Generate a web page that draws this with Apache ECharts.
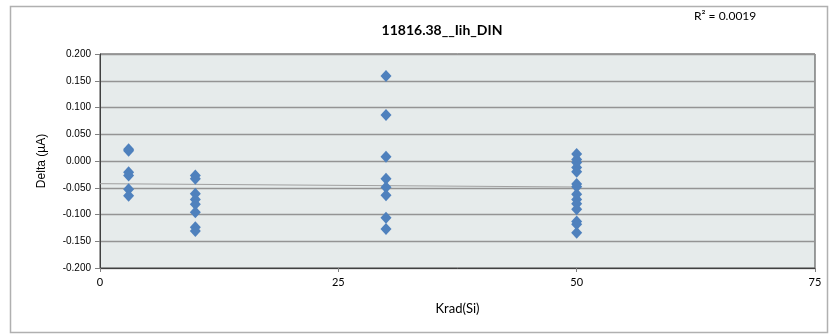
<!DOCTYPE html>
<html>
<head>
<meta charset="utf-8">
<script src="https://cdn.jsdelivr.net/npm/echarts@6/dist/echarts.min.js"></script>
<style>
html,body{margin:0;padding:0;background:#fff;}
#chart{width:830px;height:335px;}
</style>
</head>
<body>
<div id="chart"></div>
<script>
// Data
const titleText = "11816.38__Iih_DIN";
const xAxisName = "Krad(Si)";
const yAxisName = "Delta (\u00b5A)";
const r2Text = "R\u00b2 = 0.0019";
const xTicks = [0, 25, 50, 75];
const yTicks = [-0.2, -0.15, -0.1, -0.05, 0, 0.05, 0.1, 0.15, 0.2];

const dose3 = [0.022, 0.019, -0.021, -0.027, -0.053, -0.065];
const dose10 = [-0.027, -0.033, -0.061, -0.072, -0.081, -0.096, -0.124, -0.131];
const dose30 = [0.159, 0.086, 0.008, -0.033, -0.049, -0.064, -0.106, -0.127];
const dose50 = [0.013, 0.003, -0.003, -0.012, -0.020, -0.043, -0.048, -0.062, -0.072, -0.080, -0.090, -0.113, -0.118, -0.134];
const doses = [3, 10, 30, 50];

const groups = [dose3, dose10, dose30, dose50];
const points = [];
groups.forEach((g, i) => g.forEach(v => points.push([doses[i], v])));

// linear least-squares trendline (drawn from 0 to the last dose, as in the reference)
const n = points.length;
const mx = points.reduce((s, p) => s + p[0], 0) / n;
const my = points.reduce((s, p) => s + p[1], 0) / n;
let sxy = 0, sxx = 0;
points.forEach(p => { sxy += (p[0] - mx) * (p[1] - my); sxx += (p[0] - mx) * (p[0] - mx); });
const slope = sxy / sxx;
const icpt = my - slope * mx;
const xStart = xTicks[0], xEnd = Math.max(...doses);
const trend = [[xStart, icpt + slope * xStart], [xEnd, icpt + slope * xEnd]];

const chart = echarts.init(document.getElementById('chart'), null, {renderer: 'canvas'});
const fontTick = '"Liberation Sans", Arial, sans-serif';
const fontCal = 'Lato, "Open Sans", sans-serif';

chart.setOption({
  animation: false,
  backgroundColor: '#ffffff',
  graphic: [
    {type: 'rect', left: 8, top: 4, shape: {width: 817, height: 326}, style: {fill: 'none', stroke: '#b0b0b0', lineWidth: 1.5}, z: -10},
    {type: 'text', left: 694, top: 10, style: {text: r2Text, font: '12px ' + fontCal, fill: '#000'}}
  ],
  title: {
    text: titleText, left: 437, top: 18, textAlign: 'center',
    textStyle: {fontFamily: fontCal, fontSize: 14, fontWeight: 'bold', color: '#000'}
  },
  grid: {left: 100, right: 15, top: 54, bottom: 67, show: true, backgroundColor: '#e6ebeb', borderColor: '#404040', borderWidth: 1},
  xAxis: {
    type: 'value', min: 0, max: 75, interval: 25,
    name: xAxisName, nameLocation: 'middle', nameGap: 34,
    nameTextStyle: {fontFamily: fontCal, fontSize: 13, color: '#000'},
    axisLine: {show: true, onZero: false, lineStyle: {color: '#404040', width: 1}},
    axisTick: {show: true, length: 4, lineStyle: {color: '#808080'}},
    axisLabel: {fontFamily: fontCal, fontSize: 11, color: '#000', margin: 9},
    splitLine: {show: false}
  },
  yAxis: {
    type: 'value', min: -0.2, max: 0.2, interval: 0.05,
    name: yAxisName, nameLocation: 'middle', nameGap: 52,
    nameTextStyle: {fontFamily: fontTick, fontSize: 12, color: '#000'},
    axisLine: {show: true, lineStyle: {color: '#404040', width: 1}},
    axisTick: {show: true, length: 5, lineStyle: {color: '#808080'}},
    axisLabel: {fontFamily: fontTick, fontSize: 10, color: '#000', margin: 9, formatter: v => v.toFixed(3)},
    splitLine: {show: true, lineStyle: {color: '#949494', width: 1.3}}
  },
  series: [
    {
      type: 'scatter', data: points, symbol: 'diamond', symbolSize: [11, 12],
      itemStyle: {color: '#4f81bd', opacity: 1}, z: 3
    },
    {
      type: 'line', data: trend, symbol: 'none', silent: true,
      lineStyle: {color: '#a0a0a0', width: 1}, z: 2
    }
  ]
});
</script>
</body>
</html>
